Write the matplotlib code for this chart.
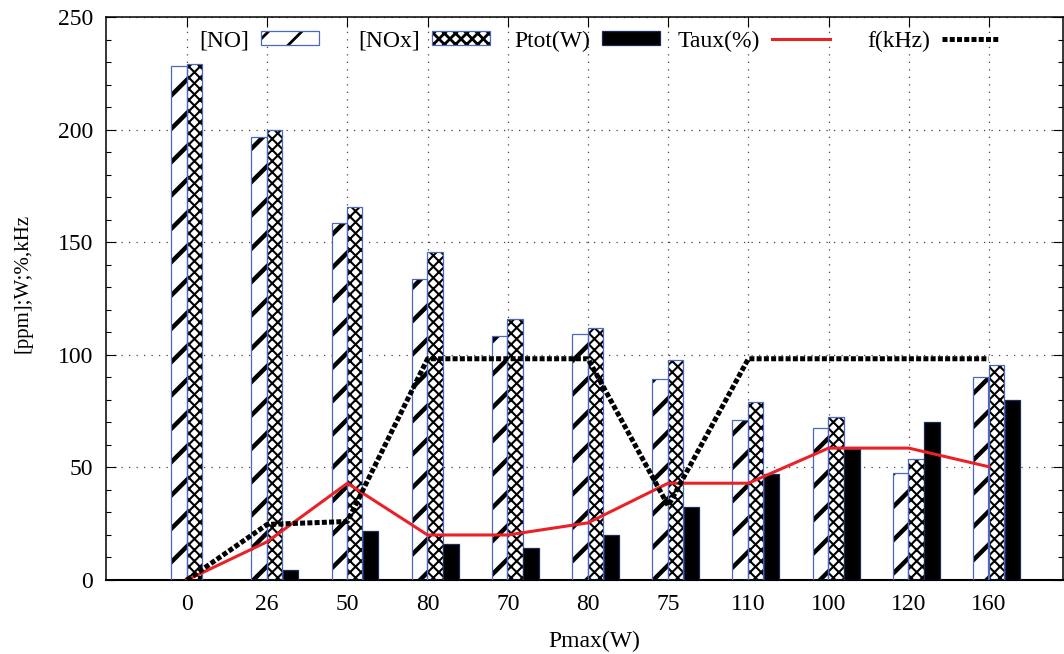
import matplotlib
matplotlib.use("Agg")
import matplotlib.pyplot as plt
import numpy as np
from matplotlib.legend_handler import HandlerTuple
from matplotlib.ticker import MultipleLocator

categories = ["0", "26", "50", "80", "70", "80", "75", "110", "100", "120", "160"]
no_ppm = [228.2, 196.8, 158.6, 133.7, 108.2, 109.1, 89.4, 71.2, 67.5, 47.5, 90.4]
nox_ppm = [229.4, 200.0, 165.8, 145.9, 116.0, 112.0, 97.6, 79.0, 72.4, 53.7, 95.5]
ptot_w = [0, 4.3, 21.7, 16.0, 14.2, 20.0, 32.3, 47.0, 58.3, 70.0, 80.0]
taux_pct = [0, 17.0, 43.0, 20.0, 20.0, 25.4, 43.0, 43.0, 58.6, 58.6, 50.3]
f_khz = [0, 24.7, 26.0, 98.3, 98.3, 98.3, 33.0, 98.3, 98.3, 98.3, 98.3]
legend_labels = ["[NO]", "[NOx]", "Ptot(W)", "Taux(%)", "f(kHz)"]

FONT = "Liberation Serif"
FS = 8.5
plt.rcParams["font.family"] = [FONT, "DejaVu Serif"]
plt.rcParams["font.size"] = FS

W_PX, H_PX = 1064, 654
fig = plt.figure(figsize=(W_PX / 200, H_PX / 200), dpi=200)
ax = fig.add_axes([105.7 / W_PX, 1 - 580 / H_PX, (1062.5 - 105.7) / W_PX, (580 - 17.3) / H_PX])

x = np.arange(len(categories))
w = 0.192
edge_blue = "#4a68c0"

with plt.rc_context({"hatch.linewidth": 1.6}):
    b_no_h = ax.bar(x - 0.102, no_ppm, w, facecolor="white", edgecolor="black",
                    linewidth=0, hatch="//", zorder=2)
b_no_e = ax.bar(x - 0.102, no_ppm, w, facecolor="none", edgecolor=edge_blue,
                linewidth=0.45, zorder=3)
with plt.rc_context({"hatch.linewidth": 0.75}):
    b_nox_h = ax.bar(x + 0.092, nox_ppm, w, facecolor="white", edgecolor="black",
                     linewidth=0, hatch="xxxxxx", zorder=2)
b_nox_e = ax.bar(x + 0.092, nox_ppm, w, facecolor="none", edgecolor=edge_blue,
                 linewidth=0.45, zorder=3)
b_ptot = ax.bar(x + 0.29, ptot_w, w, facecolor="black", edgecolor="#1c2b5c",
                linewidth=0.45, zorder=3)

l_taux, = ax.plot(x, taux_pct, color="#ea2228", lw=1.1, zorder=4)
l_f, = ax.plot(x, f_khz, color="black", lw=1.8, linestyle=(0, (1, 0.45)), zorder=5)

ax.set_xlim(-1.014, 10.917)
ax.set_ylim(0, 250)
ax.set_xticks(x)
ax.set_xticklabels(categories)
ax.yaxis.set_major_locator(MultipleLocator(50))
ax.yaxis.set_minor_locator(MultipleLocator(10))
ax.tick_params(axis="both", which="both", direction="in", top=True, right=True,
               width=0.4, labelsize=FS)
ax.tick_params(axis="both", which="major", length=3.6)
ax.tick_params(axis="y", which="minor", length=1.8)
ax.tick_params(axis="x", which="major", pad=5)
ax.tick_params(axis="y", which="major", pad=4.5)
for s in ax.spines.values():
    s.set_linewidth(0.55)
ax.spines["bottom"].set_linewidth(0.75)
ax.grid(True, which="major", color="#444444", lw=0.45, linestyle=(0, (1, 5)))
ax.set_axisbelow(True)

ax.set_xlabel("Pmax(W)", fontsize=FS)
ax.xaxis.set_label_coords((594 - 105.7) / (1062.5 - 105.7), -0.09)
ax.set_ylabel("[ppm];W;%,kHz", fontsize=7.5)
ax.yaxis.set_label_coords((33 - 105.7) / (1062.5 - 105.7), (580 - 283) / (580 - 17.3))

# gnuplot-style key: text right-aligned before its sample, equal column widths
handles = [(b_no_h[0], b_no_e[0]), (b_nox_h[0], b_nox_e[0]), b_ptot[0], l_taux, l_f]
sample_end_px = [319, 490, 660, 830, 1000]
for h, lab, xe in zip(handles, legend_labels, sample_end_px):
    fig.legend([h], [lab], handler_map={tuple: HandlerTuple(ndivide=1, pad=0)},
               loc="center right", bbox_to_anchor=(xe / W_PX, 1 - 41 / H_PX),
               bbox_transform=fig.transFigure, frameon=False, markerfirst=False,
               handlelength=2.46, handleheight=0.55, handletextpad=0.5,
               fontsize=FS, borderpad=0, borderaxespad=0)

fig.savefig("out.png", dpi=200)
